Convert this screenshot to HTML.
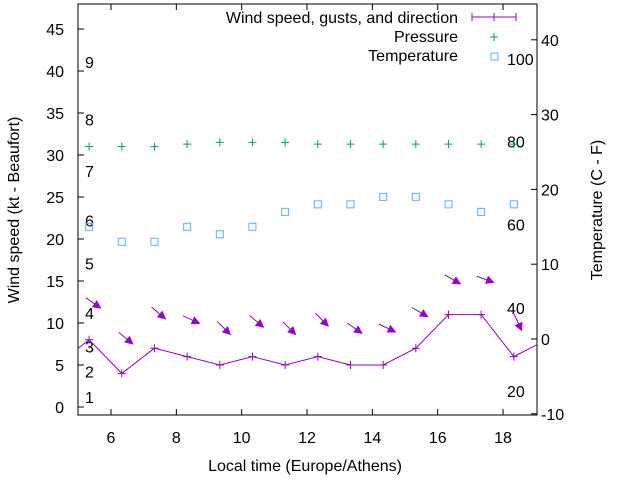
<!DOCTYPE html>
<html><head><meta charset="utf-8"><style>
body{margin:0;background:#fff}
svg text{font-family:"Liberation Sans",sans-serif;font-size:16px;fill:#000}
</style></head><body>
<svg id="c" width="640" height="480" xmlns="http://www.w3.org/2000/svg"></svg>
<script>
const times=[5.33,6.33,7.33,8.33,9.33,10.33,11.33,12.33,13.33,14.33,15.33,16.33,17.33,18.33];
const wind=[8,4,7,6,5,6,5,6,5,5,7,11,11,6];
const windEdge=[5,8];
const pressure=[31,31,31,31.3,31.5,31.5,31.5,31.3,31.3,31.3,31.3,31.3,31.3,31.3];
const temperature=[15,13,13,15,14,15,17,18,18,19,19,18,17,18];
const gust=[12.4,8.2,11.2,10.4,9.4,10.2,9.4,10.4,9.4,9.4,11.3,15.2,15.2,10.1];
const dirAngle=[35,40,40,25,45,40,45,45,35,25,30,30,20,65];
const xTicks=[6,8,10,12,14,16,18];
const yTicks=[0,5,10,15,20,25,30,35,40,45];
const y2Ticks=[-10,0,10,20,30,40];
const bftLabels=["1","2","3","4","5","6","7","8","9"];
const bftY=[1.2,4.2,7.2,11.2,17.1,22.2,28.1,34.2,41.1];
const pLabels=["100","80","60","40","20"];
const pY=[41.4,31.6,21.7,11.8,1.9];

const L=78,R=537,T=4,B=415;
const X=v=>111+(v-6)*32.67;
const Y=v=>407-v*8.4;
const Y2=v=>339-v*7.48;
const svg=document.getElementById('c');
const NS='http://www.w3.org/2000/svg';
function mk(t,a,p){const e=document.createElementNS(NS,t);for(const k in a)e.setAttribute(k,a[k]);(p||svg).appendChild(e);return e;}
function txt(s,x,y,anchor,name){const e=mk('text',{x:x,y:y,'text-anchor':anchor||'start'});e.textContent=s;


return e;}
const frame=mk('rect',{x:L,y:T,width:R-L,height:B-T,fill:'none',stroke:'#000','stroke-width':1});


xTicks.forEach(v=>{const x=X(v);mk('line',{x1:x,x2:x,y1:B,y2:B-6,stroke:'#000'});mk('line',{x1:x,x2:x,y1:T,y2:T+6,stroke:'#000'});txt(String(v),x,443,'middle','x-tick-label');});
yTicks.forEach(v=>{const y=Y(v);mk('line',{x1:L,x2:L+6,y1:y,y2:y,stroke:'#000'});txt(String(v),64,y+6,'end','y-tick-label');});
y2Ticks.forEach(v=>{const y=Y2(v);mk('line',{x1:R,x2:R-6,y1:y,y2:y,stroke:'#000'});txt(String(v),541,y+6,'start','y2-tick-label');});
bftLabels.forEach((s,i)=>txt(s,85,Y(bftY[i])+6,'start','beaufort-label'));
pLabels.forEach((s,i)=>txt(s,507,Y(pY[i])+6,'start','pressure-label'));
txt('Local time (Europe/Athens)',305,471,'middle','x-axis-title');
const yt=txt('Wind speed (kt - Beaufort)',0,0,'middle','y-axis-title');yt.setAttribute('transform','translate(19,210) rotate(-90)');
const yt2=txt('Temperature (C - F)',0,0,'middle','y2-axis-title');yt2.setAttribute('transform','translate(602,210) rotate(-90)');
// clip
const cp=mk('clipPath',{id:'cl'});mk('rect',{x:L,y:T,width:R-L,height:B-T},cp);
const g=mk('g',{'clip-path':'url(#cl)'});
const pts=[[times[0]-1,windEdge[0]]].concat(times.map((t,i)=>[t,wind[i]])).concat([[times[13]+1,windEdge[1]]]);
const line=mk('polyline',{points:pts.map(p=>X(p[0])+','+Y(p[1])).join(' '),fill:'none',stroke:'#9400d3','stroke-width':1},g);


times.forEach((t,i)=>{const x=X(t),y=Y(wind[i]);
const m=mk('path',{d:`M${x-4} ${y}H${x+4}M${x} ${y-4}V${y+4}`,stroke:'#9400d3'},g);


const py=Y(pressure[i]);
const p=mk('path',{d:`M${x-4} ${py}H${x+4}M${x} ${py-4}V${py+4}`,stroke:'#009e73'},g);


const ty=Y2(temperature[i]);
const s=mk('rect',{x:x-3.5,y:ty-3.5,width:7,height:7,fill:'none',stroke:'#56b4e9'},g);


const a=dirAngle[i]*Math.PI/180,cx=x+4,cy=Y(gust[i]),dx=Math.cos(a)*9,dy=Math.sin(a)*9;
const hx=cx+dx,hy=cy+dy,ux=Math.cos(a),uy=Math.sin(a);
const ar=mk('g',{},g);


mk('line',{x1:cx-dx,y1:cy-dy,x2:hx,y2:hy,stroke:'#9400d3'},ar);
const bx=hx-ux*7,by=hy-uy*7;
mk('polygon',{points:`${hx},${hy} ${bx-uy*3.5},${by+ux*3.5} ${bx+uy*3.5},${by-ux*3.5}`,fill:'#9400d3',stroke:'#9400d3'},ar);
});
// legend
txt('Wind speed, gusts, and direction',458,23,'end','legend-wind-label');
txt('Pressure',458,42,'end','legend-pressure-label');
txt('Temperature',458,61,'end','legend-temperature-label');
const lg=mk('g',{});


mk('path',{d:'M472 17H516M472 13V21M516 13V21M494 13V21',stroke:'#9400d3'},lg);
mk('path',{d:'M490 37H498M494 33V41',stroke:'#009e73'},lg);
mk('rect',{x:491,y:53,width:7,height:7,fill:'none',stroke:'#56b4e9'},lg);
</script>
</body></html>
